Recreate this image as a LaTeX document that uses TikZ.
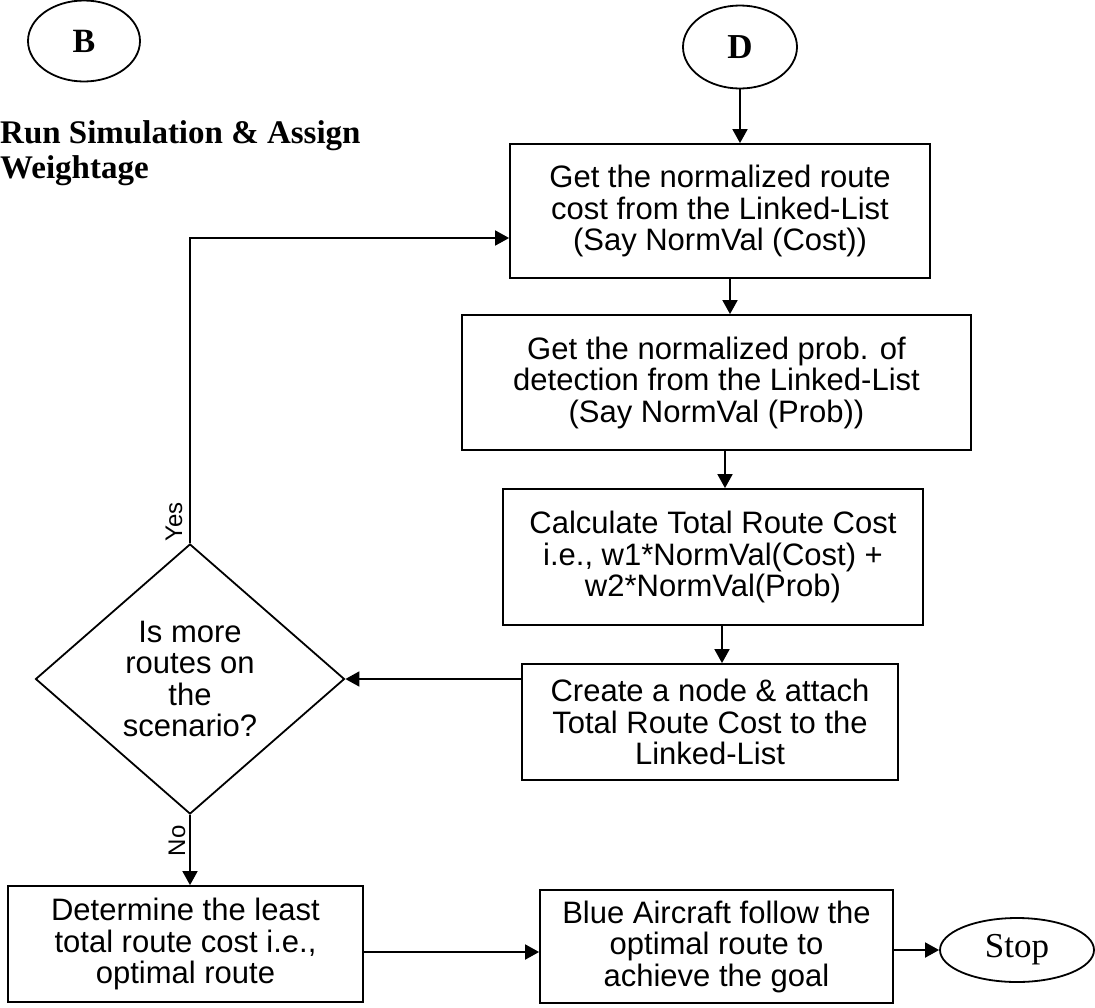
\documentclass[tikz,border=0pt]{standalone}
\usepackage{fontspec}
\setmainfont{Liberation Serif}
\newfontfamily\arialfont{Liberation Sans}
\usetikzlibrary{arrows.meta,shapes.geometric}
\begin{document}
\begin{tikzpicture}[x=1pt,y=-1pt,
  flow/.style={draw, line width=1.8pt, align=center, inner sep=0pt,
    font=\arialfont\fontsize{31}{31.5}\selectfont},
  procbox/.style={flow, rectangle},
  term/.style={draw, ellipse, line width=1.8pt, inner sep=0pt},
  decision/.style={flow, diamond, aspect=1},
  arr/.style={line width=1.8pt, -{Triangle[length=14pt,width=15pt]}},
  tag/.style={font=\arialfont\fontsize{24}{24}\selectfont, rotate=90, inner sep=0pt}
]
\useasboundingbox (0,0) rectangle (1095,1007);

% connectors B and D
\node[term, minimum width=112pt, minimum height=81pt,
      font=\bfseries\fontsize{34}{34}\selectfont] (B) at (84,41) {B};
\node[term, minimum width=114pt, minimum height=83pt,
      font=\bfseries\fontsize{35}{35}\selectfont] (D) at (740,47) {D};

% heading
\node[anchor=north west, align=left, inner sep=0pt,
      font=\bfseries\fontsize{33}{35}\selectfont] (title) at (0,120)
  {Run Simulation \& Assign\\Weightage};

% process boxes
\node[procbox, minimum width=420pt, minimum height=134pt] (cost) at (720,211)
  {Get the normalized route\\cost from the Linked-List\\(Say NormVal (Cost))};
\node[procbox, minimum width=509pt, minimum height=135pt] (prob) at (716.5,382.5)
  {Get the normalized prob. of\\detection from the Linked-List\\(Say NormVal (Prob))};
\node[procbox, minimum width=420pt, minimum height=136pt] (total) at (713,557)
  {Calculate Total Route Cost\\i.e., w1*NormVal(Cost) +\\w2*NormVal(Prob)};
\node[procbox, minimum width=376pt, minimum height=116pt] (attach) at (710,722)
  {Create a node \& attach\\Total Route Cost to the\\Linked-List};

% decision
\node[decision, minimum width=309pt, minimum height=270pt] (more) at (190,679)
  {Is more\\routes on\\the\\scenario?};

% bottom row
\node[procbox, minimum width=355pt, minimum height=116pt] (least) at (185.5,944)
  {Determine the least\\total route cost i.e.,\\optimal route};
\node[procbox, minimum width=353pt, minimum height=113pt] (follow) at (716.5,946.5)
  {Blue Aircraft follow the\\optimal route to\\achieve the goal};
\node[term, minimum width=154pt, minimum height=64pt,
      font=\fontsize{35}{35}\selectfont] (stop) at (1017,950) {Stop};

% main flow
\draw[arr] (D.south) -- (D.south |- cost.north);
\draw[arr] ([xshift=10pt]cost.south) -- ([xshift=10pt]cost.south |- prob.north);
\draw[arr] ([xshift=8.5pt]prob.south) -- ([xshift=8.5pt]prob.south |- total.north);
\draw[arr] ([xshift=9pt]total.south) -- ([xshift=9pt]total.south |- attach.north);
\draw[arr] ([yshift=43pt]attach.west) -- (more.east);

% yes: loop back to the next route
\draw[arr] (more.north) |- ([yshift=-27pt]cost.west);
\node[tag] (yes) at ([shift={(-16pt,21pt)}]more.north) {Yes};

% no: pick the optimal route
\draw[arr] (more.south) -- (more.south |- least.north);
\node[tag] (no) at ([shift={(-13pt,-26pt)}]more.south) {No};

\draw[arr] ([yshift=-8pt]least.east) -- ([yshift=-8pt]least.east -| follow.west);
\draw[arr] (follow.east |- stop.west) -- (stop.west);
\end{tikzpicture}
\end{document}
